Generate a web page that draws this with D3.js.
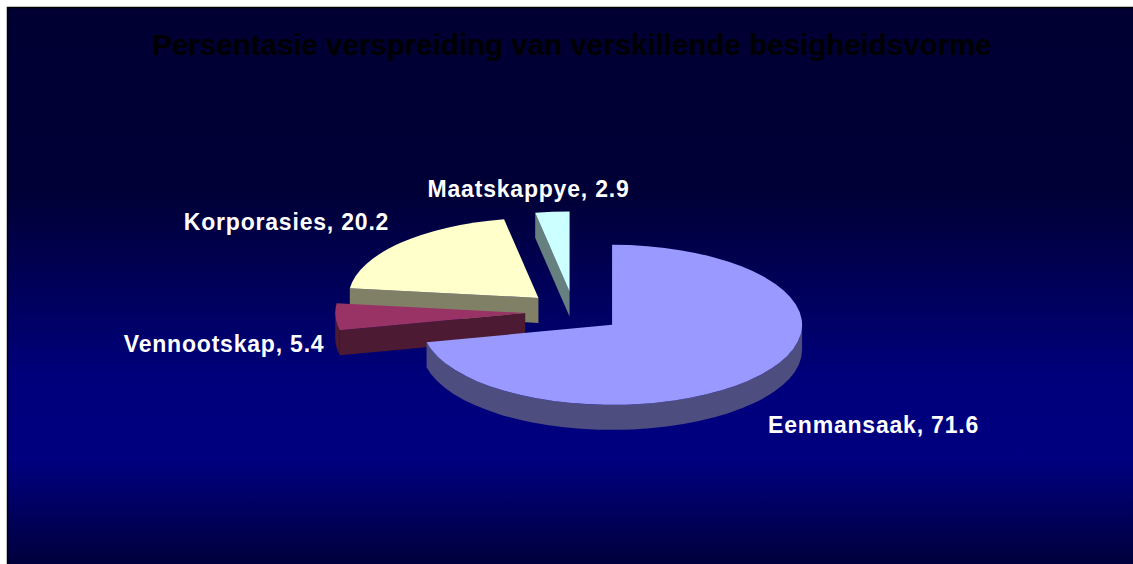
<!DOCTYPE html>
<html>
<head>
<meta charset="utf-8">
<script src="https://cdn.jsdelivr.net/npm/d3@7"></script>
<style>
  body { margin: 0; background: #fff; }
  svg text { font-family: "Liberation Sans", Arial, sans-serif; font-weight: bold; }
</style>
</head>
<body>
<div id="chart"></div>
<script>
// chart data
var categories = ["Eenmansaak", "Vennootskap", "Korporasies", "Maatskappye"]
var values = [71.6, 5.4, 20.2, 2.9]
var chartTitle = "Persentasie verspreiding van verskillende besigheidsvorme"

// excel-ish palette, top face and the darker side
var topColors = ["#9999ff", "#993366", "#ffffcc", "#ccffff"]
var sideColors = ["#4d4d80", "#4d1a33", "#808066", "#668080"]

var screen = {width: 1133, height: 564}

var pie3d = {cx: 574, cy: 312, rx: 190, ry: 80, depth: 25, explode: 0.257}

// label nudges, Excel puts them a bit off from the slice
var labelNudge = {
    "Eenmansaak": {dx: -7, dy: 28, anchor: "start"},
    "Vennootskap": {dx: 8, dy: 10, anchor: "end"},
    "Korporasies": {dx: 3, dy: -8, anchor: "end"},
    "Maatskappye": {dx: -22, dy: -7, anchor: "middle"}
}

var svg = d3.select("#chart")
    .append("svg")
    .attr("width", screen.width)
    .attr("height", screen.height)

// background gradient, dark top, blue band low down
var defs = svg.append("defs")
var grad = defs.append("linearGradient")
    .attr("id", "bg")
    .attr("x1", 0).attr("y1", 0)
    .attr("x2", 0).attr("y2", 1)

var stops = [[0, "#000033"], [0.33, "#000037"], [0.66, "#00007c"], [0.8, "#000080"], [1, "#000038"]]
grad.selectAll("stop")
    .data(stops)
    .enter()
    .append("stop")
    .attr("offset", function(d) { return d[0] })
    .attr("stop-color", function(d) { return d[1] })

svg.append("rect")
    .attr("x", 7.5)
    .attr("y", 7.5)
    .attr("width", screen.width)
    .attr("height", screen.height)
    .attr("fill", "url(#bg)")
    .attr("stroke", "#000")
    .attr("stroke-width", 1.5)

svg.append("text")
    .attr("x", 572)
    .attr("y", 55)
    .attr("text-anchor", "middle")
    .style("font-size", "29.5px")
    .attr("fill", "#000")
    .text(chartTitle)

// angles from d3.pie, clockwise from 12 o'clock
var slices = d3.pie().sort(null).value(function(d) { return d.value })(
    categories.map(function(c, i) { return {name: c, value: values[i], i: i} })
)

var pt = function(c, a, f)
{
    f = f || 1
    return [c[0] + pie3d.rx * f * Math.sin(a), c[1] - pie3d.ry * f * Math.cos(a)]
}

var down = function(p) { return [p[0], p[1] + pie3d.depth] }

slices.forEach(function(s)
{
    s.mid = (s.startAngle + s.endAngle) / 2
    s.center = pt([pie3d.cx, pie3d.cy], s.mid, pie3d.explode)
    s.order = s.center[1] - pie3d.ry * 0.5 * Math.cos(s.mid)
})

var arcTo = function(p, large, sweep)
{
    return "A" + pie3d.rx + "," + pie3d.ry + " 0 " + large + " " + sweep + " " + p[0] + "," + p[1]
}

var topPath = function(s)
{
    var a = pt(s.center, s.startAngle), b = pt(s.center, s.endAngle)
    var large = (s.endAngle - s.startAngle) > Math.PI ? 1 : 0
    return "M" + s.center + "L" + a + arcTo(b, large, 1) + "Z"
}

var outerSide = function(s)
{
    var lo = Math.max(s.startAngle, Math.PI / 2)
    var hi = Math.min(s.endAngle, Math.PI * 1.5)
    if (hi <= lo) return null
    var a = pt(s.center, lo), b = pt(s.center, hi)
    var large = (hi - lo) > Math.PI ? 1 : 0
    return "M" + a + arcTo(b, large, 1) + "L" + down(b) + arcTo(down(a), large, 0) + "Z"
}

var radialFace = function(s, ang)
{
    var p = pt(s.center, ang)
    return "M" + s.center + "L" + p + "L" + down(p) + "L" + down(s.center) + "Z"
}

var g = svg.append("g").attr("id", "pie")

slices.slice().sort(function(a, b) { return a.order - b.order }).forEach(function(s)
{
    var sg = g.append("g").attr("class", "slice")
    var side = sideColors[s.data.i]

    if (Math.sin(s.startAngle) < -0.01)
    {
        sg.append("path").attr("d", radialFace(s, s.startAngle)).attr("fill", side)
    }
    if (Math.sin(s.endAngle) > 0.01)
    {
        sg.append("path").attr("d", radialFace(s, s.endAngle)).attr("fill", side)
    }
    var os = outerSide(s)
    if (os) sg.append("path").attr("d", os).attr("fill", side)

    sg.append("path")
        .attr("d", topPath(s))
        .attr("fill", topColors[s.data.i])
})

// labels
slices.forEach(function(s)
{
    var p = pt(s.center, s.mid, 1.1)
    if (Math.cos(s.mid) < 0) p = down(p)
    var n = labelNudge[s.data.name]
    svg.append("text")
        .attr("x", p[0] + n.dx)
        .attr("y", p[1] + n.dy)
        .attr("text-anchor", n.anchor)
        .attr("fill", "#fff")
        .style("font-size", "23px")
        .style("letter-spacing", "0.8px")
        .text(s.data.name + ", " + s.data.value)
})
</script>
</body>
</html>
